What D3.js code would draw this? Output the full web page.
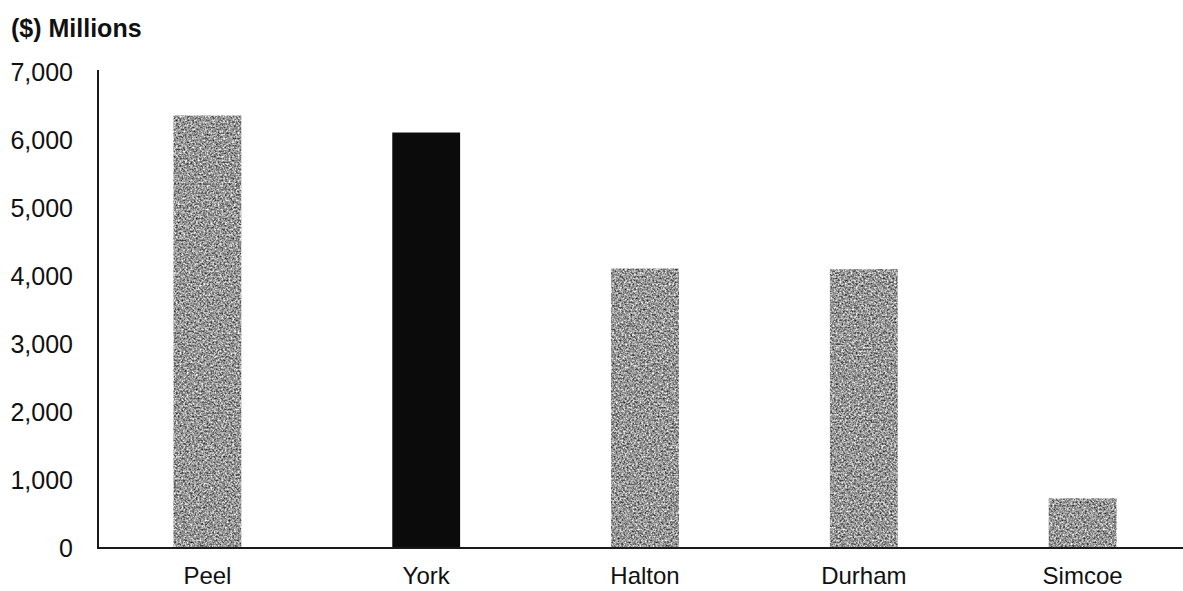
<!DOCTYPE html>
<html>
<head>
<meta charset="utf-8">
<script src="https://cdn.jsdelivr.net/npm/d3@7"></script>
<style>
  html, body { margin: 0; padding: 0; background: #fff; }
  svg { display: block; }
  text { font-family: "Liberation Sans", Arial, sans-serif; fill: #111; }
</style>
</head>
<body>
<svg id="chart" width="1183" height="591"></svg>
<script>
// Regional values in $ millions
const regions = ["Peel", "York", "Halton", "Durham", "Simcoe"];
const values = [6360, 6110, 4110, 4100, 730];
const highlighted = ["York"];
const yTicks = [0, 1000, 2000, 3000, 4000, 5000, 6000, 7000];
const unitLabel = "($) Millions";

const svg = d3.select("#chart");
const W = 1183, H = 591;
const axisX = 98, baseY = 548, topY = 72;
const fontFamily = "Liberation Sans, Arial, sans-serif";

const x = d3.scaleBand()
  .domain(regions)
  .range([axisX, 1192])
  .paddingInner(0.69)
  .paddingOuter(0.345);

const y = d3.scaleLinear().domain([0, 7000]).range([baseY, topY]);

// grainy grey fill for the ordinary bars
const defs = svg.append("defs");
const f = defs.append("filter").attr("id", "grain")
  .attr("x", 0).attr("y", 0).attr("width", "100%").attr("height", "100%")
  .attr("color-interpolation-filters", "sRGB");
f.append("feTurbulence").attr("type", "fractalNoise")
  .attr("baseFrequency", 0.55).attr("numOctaves", 2).attr("seed", 7).attr("result", "noise");
f.append("feColorMatrix").attr("in", "noise").attr("type", "matrix")
  .attr("values", "1 0 0 0 0  1 0 0 0 0  1 0 0 0 0  0 0 0 0 1").attr("result", "gray");
const ct = f.append("feComponentTransfer").attr("in", "gray").attr("result", "tone");
["feFuncR", "feFuncG", "feFuncB"].forEach(n =>
  ct.append(n).attr("type", "linear").attr("slope", 1.3).attr("intercept", -0.06));
f.append("feGaussianBlur").attr("in", "tone").attr("stdDeviation", 0.4).attr("result", "soft");
f.append("feComposite").attr("in", "soft").attr("in2", "SourceGraphic").attr("operator", "in");

// bars
svg.append("g").selectAll("rect")
  .data(regions.map((r, i) => ({ r, v: values[i] })))
  .join("rect")
  .attr("x", d => x(d.r))
  .attr("width", x.bandwidth())
  .attr("y", d => y(d.v))
  .attr("height", d => baseY - y(d.v))
  .attr("fill", d => highlighted.includes(d.r) ? "#0b0b0b" : "#9a9a9a")
  .attr("filter", d => highlighted.includes(d.r) ? null : "url(#grain)");

// y axis: labels only, plus the vertical rule
const yAxis = d3.axisLeft(y).tickValues(yTicks).tickSize(0).tickPadding(0)
  .tickFormat(d3.format(","));
const gy = svg.append("g").attr("transform", `translate(73,0)`).call(yAxis);
gy.select(".domain").remove();
gy.selectAll("text").attr("font-size", 25).attr("fill", "#111")
  .attr("font-family", fontFamily);

svg.append("line")
  .attr("x1", axisX).attr("x2", axisX)
  .attr("y1", 70).attr("y2", baseY)
  .attr("stroke", "#1a1a1a").attr("stroke-width", 2);

// x axis baseline and category labels
const xAxis = d3.axisBottom(x).tickSize(0).tickPadding(0);
const gx = svg.append("g").attr("transform", `translate(0,${baseY})`).call(xAxis);
gx.select(".domain").remove();
gx.selectAll("text").attr("font-size", 24).attr("y", 36).attr("dy", 0)
  .attr("fill", "#111").attr("font-family", fontFamily);

svg.append("line")
  .attr("x1", axisX - 1).attr("x2", W)
  .attr("y1", baseY).attr("y2", baseY)
  .attr("stroke", "#1a1a1a").attr("stroke-width", 2);

// unit label
svg.append("text")
  .attr("x", 11).attr("y", 37)
  .attr("font-size", 25).attr("font-weight", "bold")
  .text(unitLabel);
</script>
</body>
</html>
